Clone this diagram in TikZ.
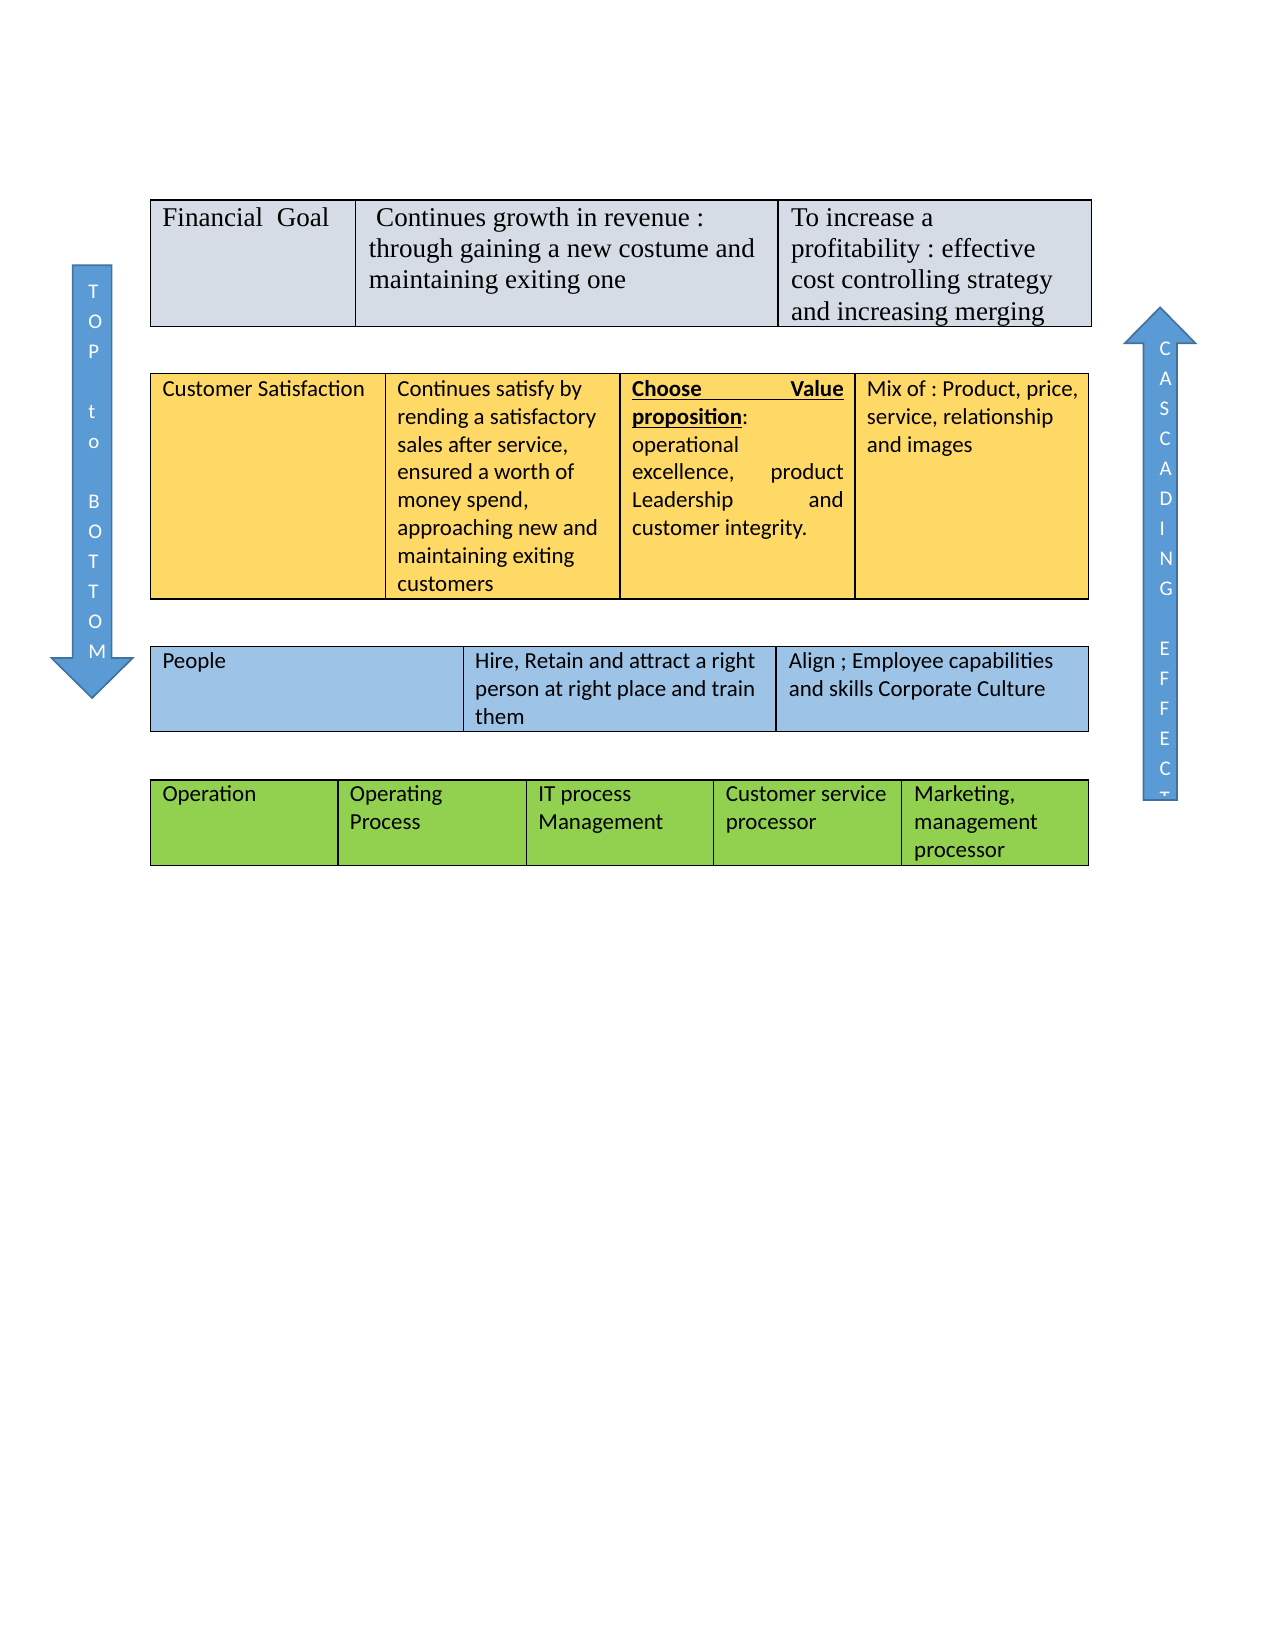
\documentclass[tikz,border=0pt]{standalone}
\usepackage{fontspec}
\setmainfont{Liberation Serif}
\newfontfamily\calfont{Carlito}
\definecolor{topfill}{HTML}{D6DCE5}
\definecolor{yelfill}{HTML}{FFD966}
\definecolor{bluefill}{HTML}{9DC3E6}
\definecolor{greenfill}{HTML}{92D050}
\definecolor{arrowfill}{HTML}{5B9BD5}
\definecolor{arrowedge}{HTML}{41719C}
\frenchspacing
\newcommand\jfill{\hskip 0pt plus 1filll\relax}
\newcommand\ulword[1]{\leavevmode\setbox0\hbox{#1}\rlap{\rule[-1.9pt]{\wd0}{0.55pt}}\box0}
\tikzset{
  tx/.style={anchor=base west, inner sep=0pt, align=flush left, text width=#1},
  ser/.style={font=\frenchspacing\fontsize{13}{15}\selectfont},
  cal/.style={font=\frenchspacing\calfont\fontsize{11}{13.35}\selectfont},
  cellbox/.style={draw=black, line width=0.6pt},
  gridline/.style={draw=black, line width=0.6pt},
  bigarrow/.style={fill=arrowfill, draw=arrowedge, line width=0.8pt},
  arrowtxt/.style={anchor=base west, inner sep=0pt, align=flush left, text width=20pt,
    text=white, font=\calfont\fontsize{10}{14.4}\selectfont},
}
\begin{document}
\begin{tikzpicture}[x=0.48pt,y=-0.48pt]
\useasboundingbox[fill=white] (0,0) rectangle (1275,1651);

% ---------- arrows ----------
\draw[bigarrow] (72.6,265.3) -- (111.6,265.3) -- (111.6,658) -- (132.7,658)
  -- (92.1,698) -- (51.5,658) -- (72.6,658) -- cycle;
\node[arrowtxt] (topbottom) at (88,298.3) {T\\O\\P\\~\\t\\o\\~\\B\\O\\T\\T\\O\\M};

\draw[bigarrow] (1143.4,800) -- (1143.4,343.2) -- (1124.8,343.2) -- (1160.1,307.4)
  -- (1195.4,343.2) -- (1177,343.2) -- (1177,800) -- cycle;
\begin{scope}
  \clip (1143.8,795) -- (1143.8,320) -- (1176.6,320) -- (1176.6,795) -- cycle;
  \node[arrowtxt] (cascade) at (1159.3,355) {C\\A\\S\\C\\A\\D\\I\\N\\G\\~\\E\\F\\F\\E\\C\\T};
\end{scope}

% ---------- table 1: financial ----------
\path[cellbox, fill=topfill] (150.5,200) rectangle (1091.8,326.4);
\draw[gridline] (355.8,200) -- (355.8,326.4) (778,200) -- (778,326.4);
\node[tx=95pt, ser] (fin1) at (162,226.5) {Financial\ \ Goal};
\node[tx=200pt, ser] (fin2) at (368.5,226.5) {\hspace*{3.5pt}Continues growth in revenue :\\through gaining a new costume and\\maintaining exiting one};
\node[tx=150pt, ser] (fin3) at (790.6,226.5) {To increase a\\profitability : effective\\cost controlling strategy\\and increasing merging};

% ---------- table 2: customer ----------
\path[cellbox, fill=yelfill] (150.5,373.7) rectangle (1088.6,599);
\draw[gridline] (385.3,373.7) -- (385.3,599) (620.1,373.7) -- (620.1,599) (854.9,373.7) -- (854.9,599);
\node[tx=110pt, cal] (cus1) at (162.1,396.5) {Customer Satisfaction};
\node[tx=110pt, cal] (cus2) at (396.9,396.5) {Continues satisfy by\\rending a satisfactory\\sales after service,\\ensured a worth of\\money spend,\\approaching new and\\maintaining exiting\\customers};
\node[tx=101.6pt, cal] (cus3) at (631.7,396.5) {\textbf{Choose}\jfill\textbf{Value}\llap{\rule[-1.9pt]{101.6pt}{0.55pt}}\\\ulword{\textbf{proposition}}:\\operational\\excellence,\jfill product\\Leadership\jfill and\\customer integrity.};
\node[tx=110pt, cal] (cus4) at (866.5,396.5) {Mix of : Product, price,\\service, relationship\\and images};

% ---------- table 3: people ----------
\path[cellbox, fill=bluefill] (150.5,646.4) rectangle (1088.6,731.7);
\draw[gridline] (463.2,646.4) -- (463.2,731.7) (775.9,646.4) -- (775.9,731.7);
\node[tx=140pt, cal] (peo1) at (162.1,668.5) {People};
\node[tx=145pt, cal] (peo2) at (474.8,668.5) {Hire, Retain and attract a right\\person at right place and train\\them};
\node[tx=145pt, cal] (peo3) at (788.5,668.5) {Align ; Employee capabilities\\and skills Corporate Culture};

% ---------- table 4: operation ----------
\path[cellbox, fill=greenfill] (150.5,780.1) rectangle (1088.6,865.4);
\draw[gridline] (338,780.1) -- (338,865.4) (526.4,780.1) -- (526.4,865.4)
  (713.8,780.1) -- (713.8,865.4) (901.2,780.1) -- (901.2,865.4);
\node[tx=85pt, cal] (op1) at (162.1,801.5) {Operation};
\node[tx=85pt, cal] (op2) at (349.5,801.5) {Operating\\Process};
\node[tx=85pt, cal] (op3) at (538,801.5) {IT process\\Management};
\node[tx=85pt, cal] (op4) at (725.4,801.5) {Customer service\\processor};
\node[tx=85pt, cal] (op5) at (913.8,801.5) {Marketing,\\management\\processor};
\end{tikzpicture}
\end{document}
